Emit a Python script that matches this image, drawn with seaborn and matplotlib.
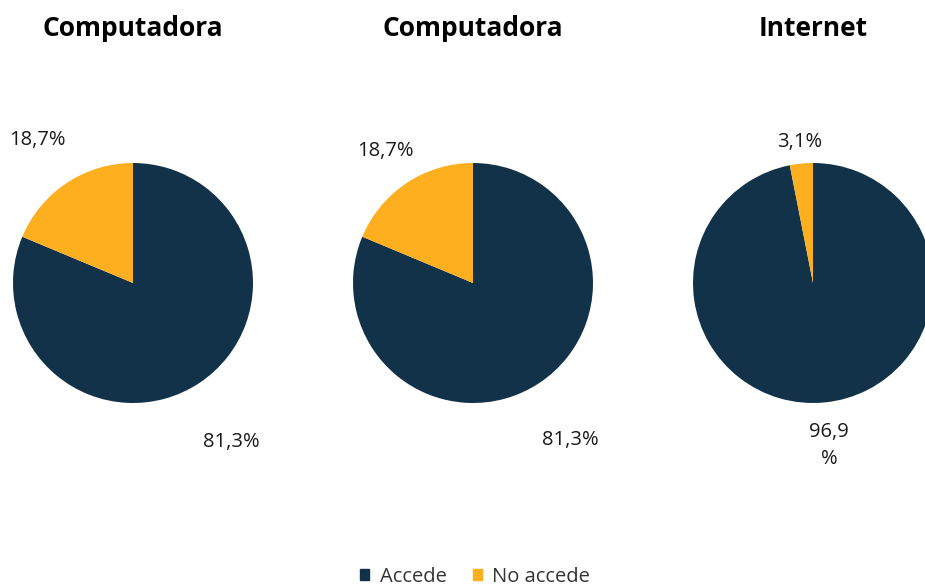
import numpy as np
import matplotlib.pyplot as plt
import matplotlib.patches as mpatches
import seaborn as sns

# data
titles = ['Computadora', 'Computadora', 'Internet']
categories = ['Accede', 'No accede']
accede = [81.3, 81.3, 96.9]
no_accede = [18.7, 18.7, 3.1]
label_texts = [['81,3%', '18,7%'], ['81,3%', '18,7%'], ['96,9\n%', '3,1%']]

sns.set_theme(style='white')
plt.rcParams['font.family'] = ['Open Sans', 'DejaVu Sans']

colors = ['#12324a', '#fdaf20']
W, H = 925, 588
fig = plt.figure(figsize=(W / 100, H / 100), dpi=100)

centers_x = [133, 473, 813]
cy = 283
r = 120
# label distances (in radius units) and angle nudges for each pie
dists = [[1.56, 1.43], [1.54, 1.32], [1.36, 1.18]]
nudge = [[-2.0, 0.0], [-2.0, 0.0], [0.0, 0.0]]

for i in range(3):
    ax = fig.add_axes([(centers_x[i] - r) / W, (H - cy - r) / H, 2 * r / W, 2 * r / H])
    vals = [accede[i], no_accede[i]]
    wedges, _ = ax.pie(vals, colors=colors, startangle=90, counterclock=False,
                       radius=1, wedgeprops=dict(linewidth=0))
    for w, lab, d, nd in zip(wedges, label_texts[i], dists[i], nudge[i]):
        ang = np.deg2rad((w.theta1 + w.theta2) / 2 + nd)
        ax.text(d * np.cos(ang), d * np.sin(ang), lab, ha='center', va='center',
                fontsize=14.5, color='#1a1a1a', clip_on=False, linespacing=1.5)
    ax.set_xlim(-1, 1)
    ax.set_ylim(-1, 1)
    ax.set_aspect('equal')
    fig.text(centers_x[i] / W, 1 - 29 / H, titles[i], ha='center', va='center',
             fontsize=19, fontweight='bold', color='black')

handles = [mpatches.Patch(color=c, label=l) for c, l in zip(colors, categories)]
fig.legend(handles=handles, loc='center', bbox_to_anchor=(475 / W, 1 - 577 / H),
           ncol=2, frameon=False, fontsize=14.5, handlelength=0.45, handleheight=0.45,
           handletextpad=0.5, columnspacing=1.3, labelcolor='#333333')

fig.savefig('out.png', dpi=100)
